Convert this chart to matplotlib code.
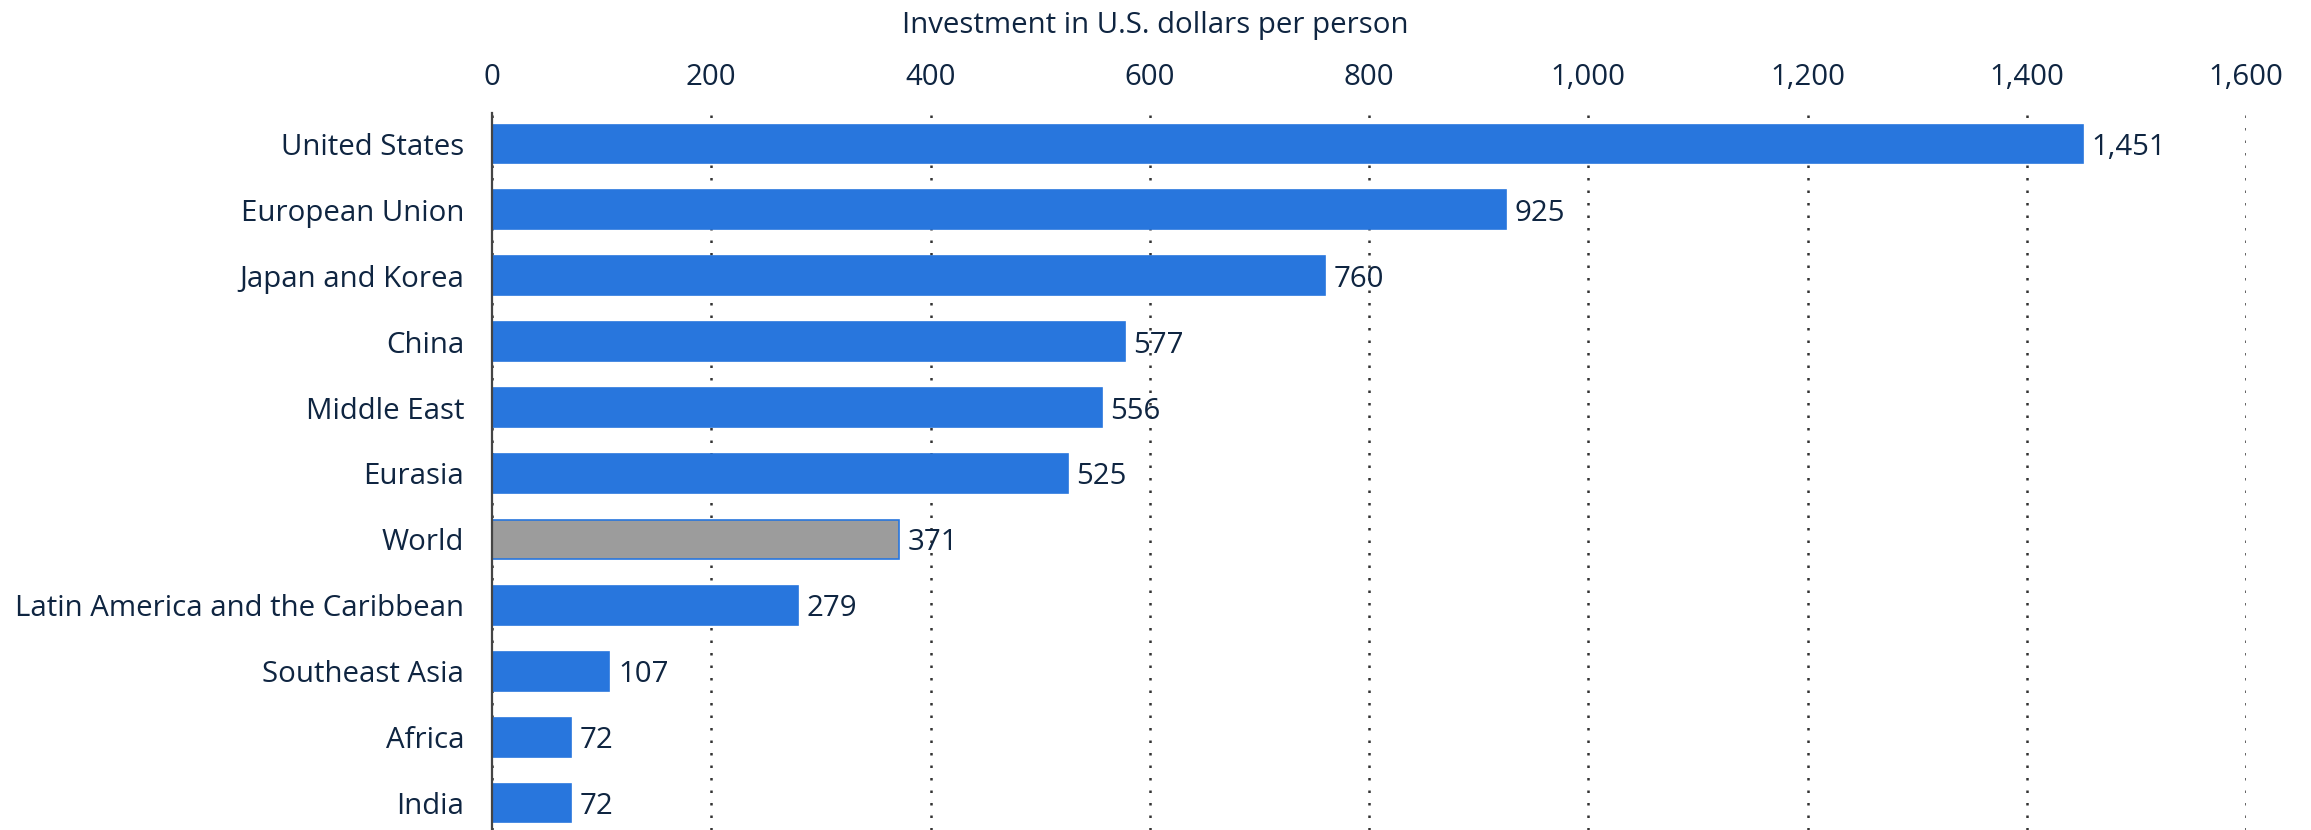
import matplotlib
matplotlib.use("Agg")
from matplotlib import pyplot as plt
from matplotlib.ticker import FuncFormatter, MultipleLocator

regions = [
    "United States",
    "European Union",
    "Japan and Korea",
    "China",
    "Middle East",
    "Eurasia",
    "World",
    "Latin America and the Caribbean",
    "Southeast Asia",
    "Africa",
    "India",
]
investment = [1451, 925, 760, 577, 556, 525, 371, 279, 107, 72, 72]
highlight = "World"

BLUE = "#2876dd"
GREY = "#9c9c9c"
TEXT = "#0f2541"

plt.rcParams["font.family"] = ["Open Sans", "DejaVu Sans"]

fig = plt.figure(figsize=(23.11, 8.30), dpi=100)
ax = fig.add_axes([492 / 2311, 0.0, (2246 - 492) / 2311, 1 - 113 / 830])

y = list(range(len(regions)))
colors = [GREY if r == highlight else BLUE for r in regions]
ax.barh(y, investment, height=0.59, color=colors, edgecolor=BLUE, linewidth=1.2, zorder=3)

for yi, v in zip(y, investment):
    ax.text(v + 8, yi, f"{v:,}", va="center_baseline", ha="left", fontsize=21.2,
            color=TEXT, zorder=4)

ax.set_xlim(0, 1600)
ax.set_ylim(10.41, -0.47)
ax.set_yticks(y)
ax.set_yticklabels(regions, fontsize=21.2, color=TEXT, va="center_baseline")

ax.xaxis.set_major_locator(MultipleLocator(200))
ax.xaxis.set_major_formatter(FuncFormatter(lambda x, _: f"{x:,.0f}"))
ax.xaxis.tick_top()
ax.tick_params(axis="x", labelsize=21.2, labelcolor=TEXT, length=0, pad=15)
ax.tick_params(axis="y", length=0, pad=20)

ax.grid(axis="x", color="#333333", linestyle=(0, (1, 4)), linewidth=1.8, zorder=0)
ax.xaxis.get_gridlines()[0].set_visible(False)

for side in ["top", "right", "bottom"]:
    ax.spines[side].set_visible(False)
ax.spines["left"].set_color("#444444")
ax.spines["left"].set_linewidth(1.6)
ax.spines["left"].set_zorder(5)

fig.text(0.5, 1 - 25 / 830, "Investment in U.S. dollars per person",
         ha="center", va="center", fontsize=21.2, color=TEXT)

fig.savefig("out.png", dpi=100, facecolor="white")
